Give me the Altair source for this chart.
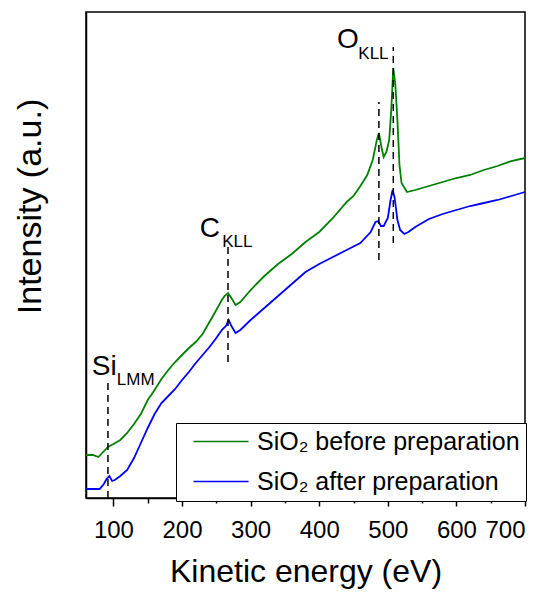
import altair as alt
import pandas as pd

# ---- data (intensity in arbitrary units) ----
energy_before = [60, 70, 78, 85, 92, 100, 110, 120, 130, 140, 150, 160, 170, 180, 190, 200,
                 210, 220, 230, 240, 250, 258, 262, 267, 272, 278, 285, 300, 320, 340, 360,
                 380, 400, 420, 440, 450, 460, 470, 478, 484, 487, 491, 494, 498, 502, 505,
                 508, 511, 514, 517, 520, 528, 540, 560, 580, 600, 620, 640, 660, 680, 700]
intensity_before = [43, 43, 41, 46, 51, 54, 58, 65, 74, 84, 98, 108, 119, 128, 136, 143,
                    150, 156, 164, 176, 188, 198, 202, 205, 200, 193, 196, 208, 222, 234, 244,
                    256, 266, 280, 296, 302, 312, 323, 338, 358, 365, 350, 341, 346, 358, 388,
                    430, 413, 378, 333, 315, 306, 308, 312, 316, 320, 323, 328, 332, 337, 340]

energy_after = [60, 70, 80, 86, 90, 94, 98, 102, 110, 120, 130, 140, 150, 160, 170, 180,
                190, 200, 210, 220, 230, 240, 250, 258, 264, 268, 272, 278, 285, 300, 320,
                340, 360, 380, 400, 420, 440, 460, 475, 482, 486, 490, 494, 500, 504, 507,
                510, 514, 518, 524, 530, 540, 560, 580, 600, 620, 640, 660, 680, 700]
intensity_after = [9, 9, 9, 14, 19, 22, 17, 18, 22, 28, 40, 55, 70, 84, 95, 102,
                   109, 118, 126, 135, 143, 151, 160, 168, 172, 178, 172, 165, 168, 178, 190,
                   202, 214, 226, 234, 241, 248, 255, 266, 276, 277, 272, 272, 280, 298, 308,
                   300, 278, 268, 264, 266, 271, 279, 284, 288, 292, 295, 298, 302, 306]

series_names = ["SiO₂ before preparation", "SiO₂ after preparation"]
series_colors = ["#008000", "#0000ff"]

# dashed marker lines (energy, lower and upper intensity)
marker_energy = [92, 267, 487, 508]
marker_low = [0, 136, 238, 255]
marker_high = [115, 251, 396, 451]

# peak labels: main letters and subscripts
label_main = ["Si", "C", "O"]
label_main_x = [68.5, 226, 426]
label_main_y = [123, 261, 450]
label_sub = ["LMM", "KLL", "KLL"]
label_sub_x = [105, 258.5, 457]
label_sub_y = [113, 251, 439]

major_ticks = [100, 200, 300, 400, 500, 600, 700]
minor_ticks = [150, 250, 350, 450, 550, 650]

FONT = "Liberation Sans"

lines_df = pd.concat([
    pd.DataFrame({"energy": energy_before, "intensity": intensity_before, "series": series_names[0]}),
    pd.DataFrame({"energy": energy_after, "intensity": intensity_after, "series": series_names[1]}),
])
markers_df = pd.DataFrame({"energy": marker_energy, "low": marker_low, "high": marker_high})
main_df = pd.DataFrame({"energy": label_main_x, "intensity": label_main_y, "label": label_main})
sub_df = pd.DataFrame({"energy": label_sub_x, "intensity": label_sub_y, "label": label_sub})

xscale = alt.Scale(domain=[60, 700], nice=False, zero=False)
yscale = alt.Scale(domain=[0, 486], nice=False, zero=False)
YTITLE = "Intensity (a.u.)"

yaxis = alt.Axis(title=YTITLE, labels=False, ticks=False, grid=False, domain=True,
                 domainColor="black", domainWidth=1.5, titleFont=FONT, titleFontSize=34,
                 titleFontWeight="normal", titleColor="black", titlePadding=39,
                 titleY=194, titleAlign="center")

main_xaxis = alt.Axis(title="Kinetic energy (eV)", values=major_ticks, orient="bottom",
                      grid=False, tickSize=8, tickWidth=1.5, tickColor="black",
                      domainColor="black", domainWidth=1.5, labelFont=FONT, labelFontSize=24,
                      labelColor="black", labelPadding=12, titleFont=FONT, titleFontSize=32,
                      titleFontWeight="normal", titleColor="black", titlePadding=14)
minor_xaxis = alt.Axis(title=None, values=minor_ticks, orient="bottom", labels=False, grid=False,
                       tickSize=5, tickWidth=1.5, tickColor="black", domain=False)

lines = alt.Chart(lines_df).mark_line(strokeWidth=1.8).encode(
    x=alt.X("energy:Q", scale=xscale, axis=main_xaxis),
    y=alt.Y("intensity:Q", scale=yscale, axis=yaxis),
    color=alt.Color("series:N",
                    scale=alt.Scale(domain=series_names, range=series_colors),
                    legend=alt.Legend(title=None, orient="none", legendX=90, legendY=411,
                                      symbolType="M-0.143,0H7.714", symbolSize=196,
                                      symbolStrokeWidth=1.5,
                                      labelFont=FONT, labelFontSize=25, labelColor="black",
                                      labelLimit=400, labelOffset=50, rowPadding=14, padding=6,
                                      strokeColor="black", fillColor="white", cornerRadius=0)),
    detail="series:N",
)

markers = alt.Chart(markers_df).mark_rule(color="black", strokeWidth=1.5, strokeDash=[7, 5]).encode(
    x=alt.X("energy:Q", scale=xscale, axis=minor_xaxis),
    y=alt.Y("low:Q", scale=yscale, axis=yaxis),
    y2="high:Q",
)

main_text = alt.Chart(main_df).mark_text(font=FONT, fontSize=28, align="left",
                                         baseline="alphabetic", color="black").encode(
    x=alt.X("energy:Q", scale=xscale, axis=None),
    y=alt.Y("intensity:Q", scale=yscale, axis=yaxis),
    text="label:N",
)

sub_text = alt.Chart(sub_df).mark_text(font=FONT, fontSize=17, align="left",
                                       baseline="alphabetic", color="black").encode(
    x=alt.X("energy:Q", scale=xscale, axis=None),
    y=alt.Y("intensity:Q", scale=yscale, axis=yaxis),
    text="label:N",
)

chart = alt.layer(lines, markers, main_text, sub_text).resolve_scale(
    x="shared", y="shared"
).resolve_axis(x="independent").properties(
    width=439, height=486,
    padding={"left": 5, "top": 4, "right": 5, "bottom": 2},
    background="white",
).configure_view(stroke="black", strokeWidth=1.5)

chart.save("out.html", embed_options={"renderer": "svg", "actions": False})
